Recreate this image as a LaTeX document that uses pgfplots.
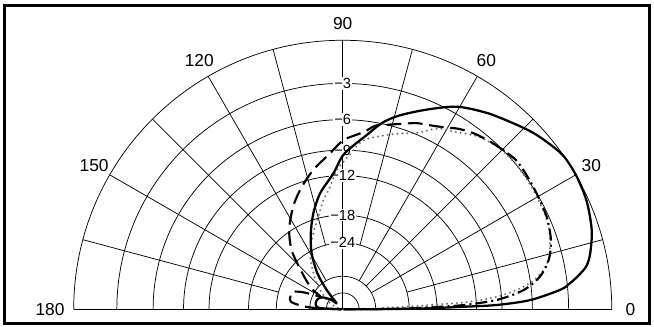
\documentclass[border=0pt]{standalone}
\usepackage{fontspec}
\setmainfont{Liberation Sans}
\usepackage{pgfplots}
\pgfplotsset{compat=1.18}
\usepackage{pgfplotstable}

% Elevation patterns: angle (deg) and relative gain (dB)
\pgfplotstableread{
ang db
0 -99
0.3 -30
0.7 -19.3
1.2 -13.8
1.6 -9.6
2.8 -6.2
5.1 -3.6
6.4 -2.85
7.9 -2.2
10 -1.45
12.8 -1.0
17.7 -0.5
23.8 -0.15
29.5 0
34.3 0
37.7 -0.2
42.7 -0.6
47.5 -1.1
53.7 -1.7
60.6 -2.5
67.1 -3.7
73.6 -4.9
78 -5.9
82.2 -7.3
86 -8.4
90 -9.6
94 -11.7
101 -14.1
107 -16.9
112.8 -20.3
119 -24.6
125.2 -31.1
129.7 -40.8
135 -59
138 -55
142 -48
150 -41.6
158 -39.4
166 -39.0
173 -39.6
177 -43
180 -99
}\solidlobe

\pgfplotstableread{
ang db
0 -99
0.5 -28
1.3 -19.3
2.0 -13.8
3.5 -9.5
6.1 -6.7
9.4 -5.1
13.5 -4.1
18.4 -3.5
24.4 -3.15
31 -3.0
37 -2.85
41 -2.8
45 -3.0
}\dashlow

\pgfplotstableread{
ang db
45 -3.0
48.7 -3.2
53.4 -3.5
57.4 -3.9
61 -4.4
65.5 -4.85
68.3 -5.05
72.8 -5.6
76.6 -6.0
80 -6.3
83 -7.0
86.5 -7.5
90 -8.0
94.7 -9.3
101.9 -10.9
108.5 -12.6
114.6 -14.35
120.5 -16.4
125.5 -18.4
131 -21.3
136 -25.6
142.8 -31
147 -35
150 -40
153 -37
157 -31.1
161 -27.7
167 -27.6
172 -28.2
176 -33.6
178 -44.6
180 -99
}\dashhigh

\pgfplotstableread{
ang db
0 -99
1.5 -35
2.8 -19.3
3.4 -12.8
5.1 -8.8
7.9 -6.1
11.1 -4.7
15.1 -3.9
21.9 -3.3
28.2 -3.15
34 -3.05
40 -3.0
46 -3.1
52 -3.5
58 -4.3
62.4 -4.75
67 -5.8
73.4 -6.6
78 -7.2
83.3 -7.9
88.8 -10.0
92.5 -11.3
95.9 -13.4
100 -15.2
104.8 -17.7
111.1 -20.5
118.9 -23.7
126 -28.0
135 -34.1
142 -40
149.8 -45.9
160 -60
170 -99
}\dottedlobe

% one axis unit (outer ring radius) in pt
\def\U{201.7688pt}

\tikzset{
  grid line/.style={black, line width=0.55pt},
  ang label/.style={font=\fontsize{13pt}{13pt}\selectfont, inner sep=0pt},
  db label/.style={font=\fontsize{11pt}{11pt}\selectfont, fill=white, inner sep=0.9pt},
}

\begin{document}
\begin{tikzpicture}
\begin{axis}[
  scale only axis, width=490.5pt, height=245.25pt,
  xmin=-1.274, xmax=1.157, ymin=-0.0658, ymax=1.150,
  hide axis, clip=false,
  every axis plot/.append style={smooth, tension=0.5},
]
% page background
\fill[white] (axis cs:-1.274,-0.0658) rectangle (axis cs:1.157,1.150);

% rings on the ARRL log scale: r = 0.89^(dB/2)
\pgfplotsinvokeforeach{0,3,6,9,12,18,24,36,48}{
  \draw[grid line] (axis cs:{0.89^(#1/2)},0) arc[start angle=0, end angle=180, radius={0.89^(#1/2)*\U}];
}
% radial lines
\pgfplotsinvokeforeach{15,75,105,165}{
  \draw[grid line] (axis cs:{0.24699*cos(#1)},{0.24699*sin(#1)}) -- (axis cs:{cos(#1)},{sin(#1)});
}
\pgfplotsinvokeforeach{30,45,60,120,135,150}{
  \draw[grid line] (axis cs:{0.12275*cos(#1)},{0.12275*sin(#1)}) -- (axis cs:{cos(#1)},{sin(#1)});
}
\draw[grid line] (axis cs:0,0) -- (axis cs:0,1);
\draw[grid line] (axis cs:-1,0) -- (axis cs:1,0);

% gain labels along the zenith line
\node[db label] at (axis cs:0,0.83962) {−3};
\node[db label] at (axis cs:0,0.70497) {−6};
\node[db label] at (axis cs:0,0.59192) {−9};
\node[db label] at (axis cs:0,0.49698) {−12};
\node[db label] at (axis cs:0,0.35036) {−18};
\node[db label] at (axis cs:0,0.24699) {−24};

% angle labels
\node[ang label] at (axis cs:1.069,0) {0};
\node[ang label] at (axis cs:{1.067*cos(30)},{1.067*sin(30)}) {30};
\node[ang label] at (axis cs:{1.067*cos(60)},{1.067*sin(60)}) {60};
\node[ang label] at (axis cs:0,1.064) {90};
\node[ang label] at (axis cs:{1.067*cos(120)},{1.067*sin(120)}) {120};
\node[ang label] at (axis cs:{1.067*cos(150)},{1.067*sin(150)}) {150};
\node[ang label] at (axis cs:-1.088,0) {180};

% patterns
\addplot[black!55, line width=1.7pt, line cap=round, dash pattern=on 0pt off 3.7pt]
  table[x expr={0.89^(-\thisrow{db}/2)*cos(\thisrow{ang})}, y expr={0.89^(-\thisrow{db}/2)*sin(\thisrow{ang})}] {\dottedlobe};
\addplot[black, line width=1.6pt, dash pattern=on 9pt off 3pt on 1.5pt off 3pt]
  table[x expr={0.89^(-\thisrow{db}/2)*cos(\thisrow{ang})}, y expr={0.89^(-\thisrow{db}/2)*sin(\thisrow{ang})}] {\dashlow};
\addplot[black, line width=1.6pt, dash pattern=on 11pt off 5pt]
  table[x expr={0.89^(-\thisrow{db}/2)*cos(\thisrow{ang})}, y expr={0.89^(-\thisrow{db}/2)*sin(\thisrow{ang})}] {\dashhigh};
\addplot[black, line width=1.7pt, line join=round]
  table[x expr={0.89^(-\thisrow{db}/2)*cos(\thisrow{ang})}, y expr={0.89^(-\thisrow{db}/2)*sin(\thisrow{ang})}] {\solidlobe};

% frame
\draw[black, line width=2.25pt] (axis cs:-1.2573,-0.0528) rectangle (axis cs:1.1405,1.1294);
\end{axis}
\end{tikzpicture}
\end{document}
